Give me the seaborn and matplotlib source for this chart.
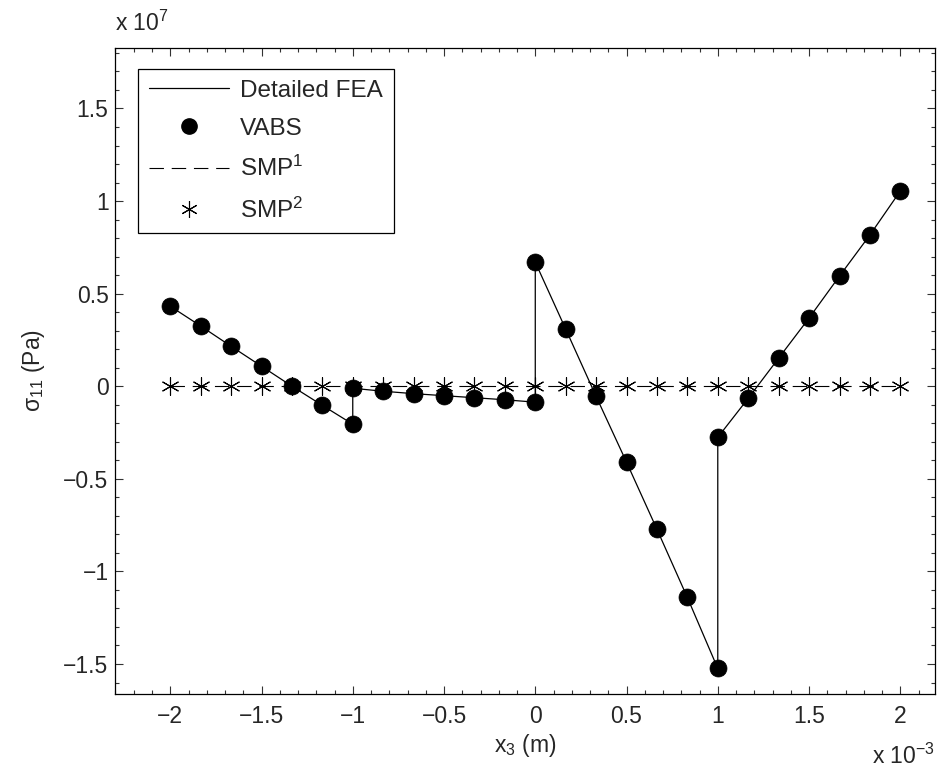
import numpy as np
import pandas as pd
import matplotlib
matplotlib.use("Agg")
import matplotlib.pyplot as plt
from matplotlib.lines import Line2D
from matplotlib.ticker import MultipleLocator, FuncFormatter
import seaborn as sns

# Through-thickness coordinate x3 (units of 1e-3 m) and axial stress sigma_11 (units of 1e7 Pa)
x3 = [-2.0, -1.833, -1.667, -1.5, -1.333, -1.167, -1.0,
      -1.0, -0.833, -0.667, -0.5, -0.333, -0.167, 0.0,
      0.0, 0.167, 0.333, 0.5, 0.667, 0.833, 1.0,
      1.0, 1.167, 1.333, 1.5, 1.667, 1.833, 2.0]
sigma_fea = [0.432, 0.325, 0.216, 0.108, 0.0, -0.103, -0.205,
             -0.011, -0.027, -0.040, -0.051, -0.062, -0.073, -0.086,
             0.670, 0.308, -0.054, -0.410, -0.773, -1.140, -1.524,
             -0.276, -0.065, 0.151, 0.368, 0.595, 0.816, 1.054]
sigma_vabs = sigma_fea

# SMP models give zero stress across the thickness
x3_smp = [-2.0, -1.833, -1.667, -1.5, -1.333, -1.167, -1.0, -0.833, -0.667,
          -0.5, -0.333, -0.167, 0.0, 0.167, 0.333, 0.5, 0.667, 0.833, 1.0,
          1.167, 1.333, 1.5, 1.667, 1.833, 2.0]
sigma_smp1 = [0.0] * len(x3_smp)
sigma_smp2 = [0.0] * len(x3_smp)

sns.set_style("ticks")
plt.rcParams["font.family"] = ["Liberation Sans", "DejaVu Sans"]
plt.rcParams["mathtext.fontset"] = "custom"
plt.rcParams["mathtext.rm"] = "Liberation Sans"
plt.rcParams["mathtext.it"] = "Liberation Sans"

fig = plt.figure(figsize=(9.39, 7.69), dpi=100)
ax = fig.add_axes([0.123, 0.098, 0.8727, 0.8392])

df_fea = pd.DataFrame({"x": x3, "s": sigma_fea})
df_vabs = pd.DataFrame({"x": x3, "s": sigma_vabs})
df_smp = pd.DataFrame({"x": x3_smp, "s1": sigma_smp1, "s2": sigma_smp2})

ast = (6, 2, 0)

sns.lineplot(data=df_smp, x="x", y="s1", ax=ax, color="black", lw=0.8,
             dashes=False, sort=False, estimator=None)
ax.lines[-1].set_dashes((13, 7))
sns.scatterplot(data=df_smp, x="x", y="s2", ax=ax, marker=ast, s=160,
                color="black", linewidth=0.8, zorder=3)
sns.lineplot(data=df_fea, x="x", y="s", ax=ax, color="black", lw=0.9,
             sort=False, estimator=None, zorder=4)
sns.scatterplot(data=df_vabs, x="x", y="s", ax=ax, marker="o", s=150,
                color="black", edgecolor="black", linewidth=0.5, zorder=5)

ax.set_xlim(-2.3, 2.19)
ax.set_ylim(-1.66, 1.825)

ax.xaxis.set_major_locator(MultipleLocator(0.5))
ax.xaxis.set_minor_locator(MultipleLocator(0.1))
ax.yaxis.set_major_locator(MultipleLocator(0.5))
ax.yaxis.set_minor_locator(MultipleLocator(0.1))
fmt = FuncFormatter(lambda v, p: ("%g" % round(v, 3)).replace("-", "\u2212"))
ax.xaxis.set_major_formatter(fmt)
ax.yaxis.set_major_formatter(fmt)

ax.tick_params(which="both", direction="in", top=True, right=True,
               color="#333333", width=0.8)
ax.tick_params(which="major", length=5.5, labelsize=16.5)
ax.tick_params(axis="x", which="major", pad=8)
ax.tick_params(axis="y", which="major", pad=5)
ax.tick_params(which="minor", length=3)
for sp in ax.spines.values():
    sp.set_linewidth(0.9)
    sp.set_color("black")

ax.set_xlabel("x$_3$ (m)", fontsize=16.5, labelpad=3)
ax.set_ylabel("\u03c3$_{11}$ (Pa)", fontsize=16.5, labelpad=12)

fig.text(0.123, 0.953, "x 10$^{7}$", fontsize=16.5, ha="left", va="bottom")
fig.text(0.996, 0.0, "x 10$^{-3}$", fontsize=16.5, ha="right", va="bottom")

handles = [
    Line2D([], [], color="black", lw=0.9),
    Line2D([], [], color="black", lw=0, marker="o", markersize=11),
    Line2D([], [], color="black", lw=0.8, dashes=(13, 7)),
    Line2D([], [], color="black", lw=0, marker=ast, markersize=12,
           markeredgewidth=0.8),
]
labels = ["Detailed FEA", "VABS", "SMP$^1$", "SMP$^2$"]
leg = ax.legend(handles, labels, loc="upper left",
                bbox_to_anchor=(0.0275, 0.968), borderaxespad=0,
                fontsize=17.5, handlelength=3.3, handletextpad=0.45,
                labelspacing=0.66, fancybox=False, framealpha=1,
                edgecolor="black", borderpad=0.45)
leg.get_frame().set_linewidth(0.9)

fig.savefig("out.png", dpi=100)
